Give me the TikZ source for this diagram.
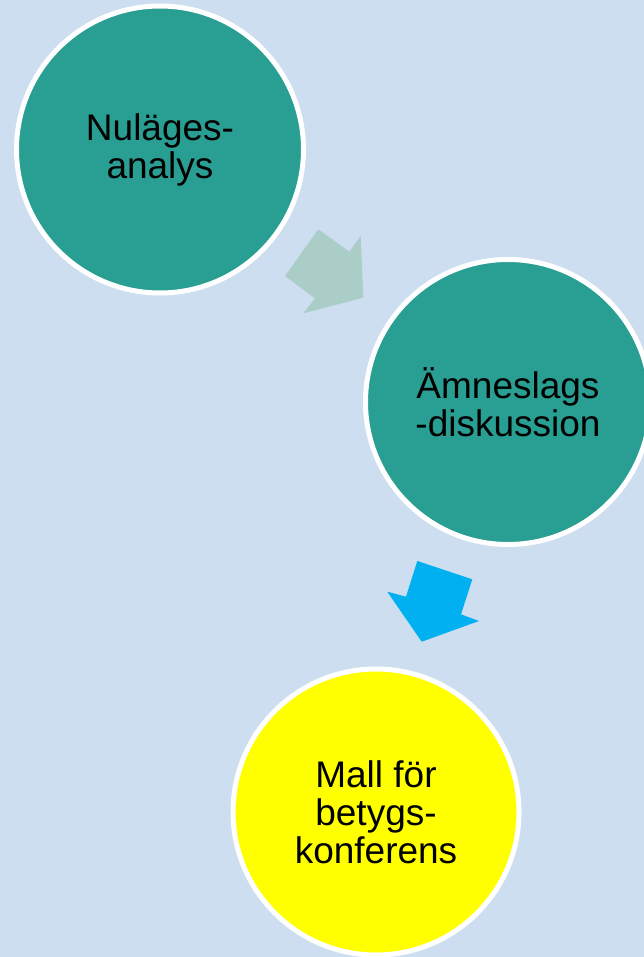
\documentclass[tikz,border=0pt]{standalone}
\usepackage{fontspec}
\setmainfont{Liberation Sans}
\definecolor{bgblue}{RGB}{205,222,240}
\definecolor{tealc}{RGB}{41,158,146}
\definecolor{lightarrow}{RGB}{171,205,200}
\definecolor{bluearrow}{RGB}{0,176,240}
\definecolor{yellowc}{RGB}{255,255,0}
\tikzset{
  stage/.style={circle, draw=white, line width=5pt, inner sep=0pt, minimum size=#1,
    align=center, font=\fontsize{37}{38}\selectfont, text=black},
  blockarrow/.style={draw=none}
}
\begin{document}
\begin{tikzpicture}[x=1pt,y=-1pt]
\fill[bgblue] (0,0) rectangle (644,957);
\useasboundingbox (0,0) rectangle (644,957);
% block arrows
\fill[lightarrow] (318.3,229.3) -- (349.3,251.7) -- (360.7,236) -- (363.3,297.7) -- (303.3,313.3) -- (315,298.3) -- (285,276) -- cycle;
\fill[bluearrow] (417.3,561) -- (472.3,579.3) -- (461,614.3) -- (479,621) -- (421.7,641.7) -- (387.3,591.7) -- (406,596.7) -- cycle;
% circles
\node[stage=287pt, fill=tealc] (n1) at (160,149.5) {Nuläges-\\analys};
\node[stage=285pt, fill=tealc] (n2) at (508,402) {Ämneslags\\-diskussion};
\node[stage=286pt, fill=yellowc] (n3) at (376,812) {Mall för\\betygs-\\konferens};
\end{tikzpicture}
\end{document}
